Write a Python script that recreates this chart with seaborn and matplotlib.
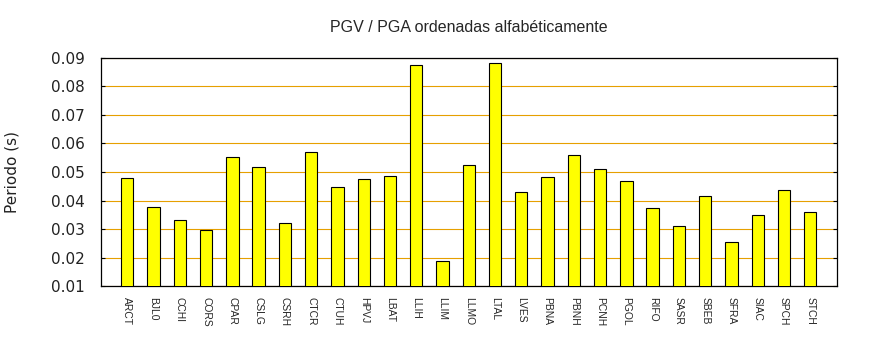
import matplotlib
matplotlib.use("Agg")
import matplotlib.pyplot as plt
import seaborn as sns
import pandas as pd

# Station codes (alphabetical) and their PGV/PGA period values in seconds
stations = ["ARCT", "BJL0", "CCHI", "CORS", "CPAR", "CSLG", "CSRH", "CTCR",
            "CTUH", "HPVJ", "LBAT", "LLIH", "LLIM", "LLMO", "LTAL", "LVES",
            "PBNA", "PBNH", "PCNH", "PGOL", "RIFO", "SASR", "SBEB", "SFRA",
            "SIAC", "SPCH", "STCH"]
periods = [0.0478, 0.0376, 0.0331, 0.0296, 0.0551, 0.0516, 0.0320, 0.0569,
           0.0446, 0.0474, 0.0485, 0.0873, 0.0187, 0.0523, 0.0880, 0.0429,
           0.0481, 0.0558, 0.0509, 0.0467, 0.0373, 0.0310, 0.0415, 0.0254,
           0.0348, 0.0436, 0.0359]
y_ticks = [0.01, 0.02, 0.03, 0.04, 0.05, 0.06, 0.07, 0.08, 0.09]

df = pd.DataFrame({"station": stations, "period": periods})

sns.set_style("white")
plt.rcParams["font.family"] = ["DejaVu Sans"]

fig = plt.figure(figsize=(8.7, 3.5), dpi=100)
ax = fig.add_axes([0.1161, 0.182, 0.9615 - 0.1161, 0.835 - 0.182])

sns.barplot(data=df, x="station", y="period", ax=ax, color="#ffff00",
            saturation=1, edgecolor="black", linewidth=0.8, width=0.47,
            errorbar=None, zorder=3)

ax.set_xlim(-1, 27)
ax.set_ylim(0.01, 0.09)
ax.set_yticks(y_ticks)
ax.set_yticklabels([f"{v:.2f}" for v in y_ticks], fontsize=11)

ax.set_axisbelow(True)
ax.yaxis.grid(True, color="#e6a000", linewidth=0.8)
ax.xaxis.grid(False)

ax.tick_params(axis="y", direction="in", length=3, width=0.8, color="black",
               left=True, right=True, pad=11.5, labelcolor="#222222")
ax.tick_params(axis="x", length=0, pad=8)
for lbl in ax.get_xticklabels():
    lbl.set_rotation(-90)
    lbl.set_fontfamily("Liberation Sans")
    lbl.set_fontsize(7.4)
    lbl.set_va("top")
    lbl.set_ha("center")

for sp in ax.spines.values():
    sp.set_visible(True)
    sp.set_color("black")
    sp.set_linewidth(0.9)

ax.set_xlabel("")
ax.set_ylabel("")
fig.text(12 / 870, 1 - 172 / 350, "Periodo (s)", rotation=90, fontsize=11,
         color="#222222", ha="center", va="center")

ax.set_title("PGV / PGA ordenadas alfabéticamente", fontsize=11.5,
             family="Liberation Sans", pad=18.7)

fig.savefig("out.png", dpi=100, facecolor="white")
